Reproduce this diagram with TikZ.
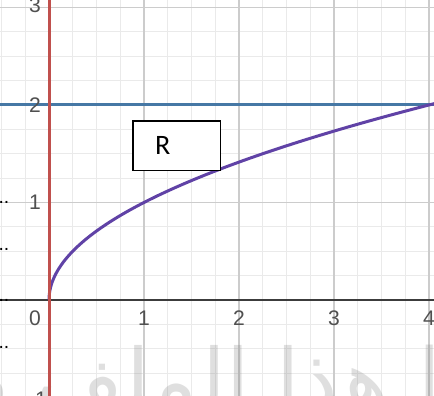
\documentclass[tikz,border=0pt]{standalone}
\usepackage{fontspec}
\setmainfont{Liberation Sans}
\newfontfamily\boxfont{Carlito}
\newfontfamily\arabicfont[Script=Arabic]{DejaVu Sans}
\TeXXeTstate=1
\definecolor{gridmajor}{RGB}{204,204,204}
\definecolor{gridminor}{RGB}{234,234,234}
\definecolor{axisgray}{RGB}{60,60,60}
\definecolor{linered}{RGB}{192,80,77}
\definecolor{lineblue}{RGB}{70,120,165}
\definecolor{curvepurple}{RGB}{96,66,166}
\definecolor{ticklabel}{RGB}{80,80,80}

\begin{document}
\begin{tikzpicture}[
    x=1.9cm, y=1.95cm,
    tick/.style={font=\fontsize{12}{12}\selectfont, text=ticklabel, inner sep=1pt},
    graph/.style={line width=1.7pt},
    watermark/.style={anchor=base, text=gray, opacity=0.25, font=\fontsize{48}{48}\selectfont},
    dotmark/.style={font=\fontsize{11}{11}\selectfont, inner sep=0pt},
    regionbox/.style={draw, line width=0.6pt, minimum width=1.754cm, minimum height=0.994cm, inner xsep=0.44cm, text width=0.874cm, align=left, font=\boxfont\fontsize{16}{16}\selectfont}
]
\clip (-0.516,-0.985) rectangle (4.053,3.077);
\fill[white] (-0.516,-0.985) rectangle (4.053,3.077);
\draw[gridminor, line width=0.6pt, step=0.25] (-0.75,-1.25) grid (4.25,3.25);
\draw[gridmajor, line width=0.7pt, step=1] (-1,-1) grid (4.25,3.25);

\node[watermark] (mark) at (2.25,-1.12) {\arabicfont\beginR ميا | هذا الملف م\endR};

\draw[axisgray, line width=1.1pt] (-0.6,0) -- (4.2,0);
\draw[lineblue, graph] (-0.6,2) -- (4.2,2);
\draw[curvepurple, graph] plot[domain=0:2.05, samples=120, smooth] ({\x*\x},\x);
\draw[linered, graph] (0,-1.1) -- (0,3.2);

% tick labels
\node[tick] (x0) at (-0.147,-0.185) {0};
\node[tick] (x1) at (1,-0.185) {1};
\node[tick] (x2) at (2,-0.185) {2};
\node[tick] (x3) at (3,-0.185) {3};
\node[tick] (x4) at (4,-0.185) {4};
\node[tick] (y1) at (-0.147,1) {1};
\node[tick] (y2) at (-0.147,2) {2};
\node[tick] (y3) at (-0.147,3.02) {3};
\node[tick] (ym1) at (-0.17,-1.03) {$-$1};

\foreach \y [count=\i] in {1.005,0.513,0,-0.492}
    \node[dotmark] (dots\i) at (-0.474,\y) {..};

\node[regionbox, fill=white] (rbox) at (1.346,1.581) {R};
\end{tikzpicture}
\end{document}
